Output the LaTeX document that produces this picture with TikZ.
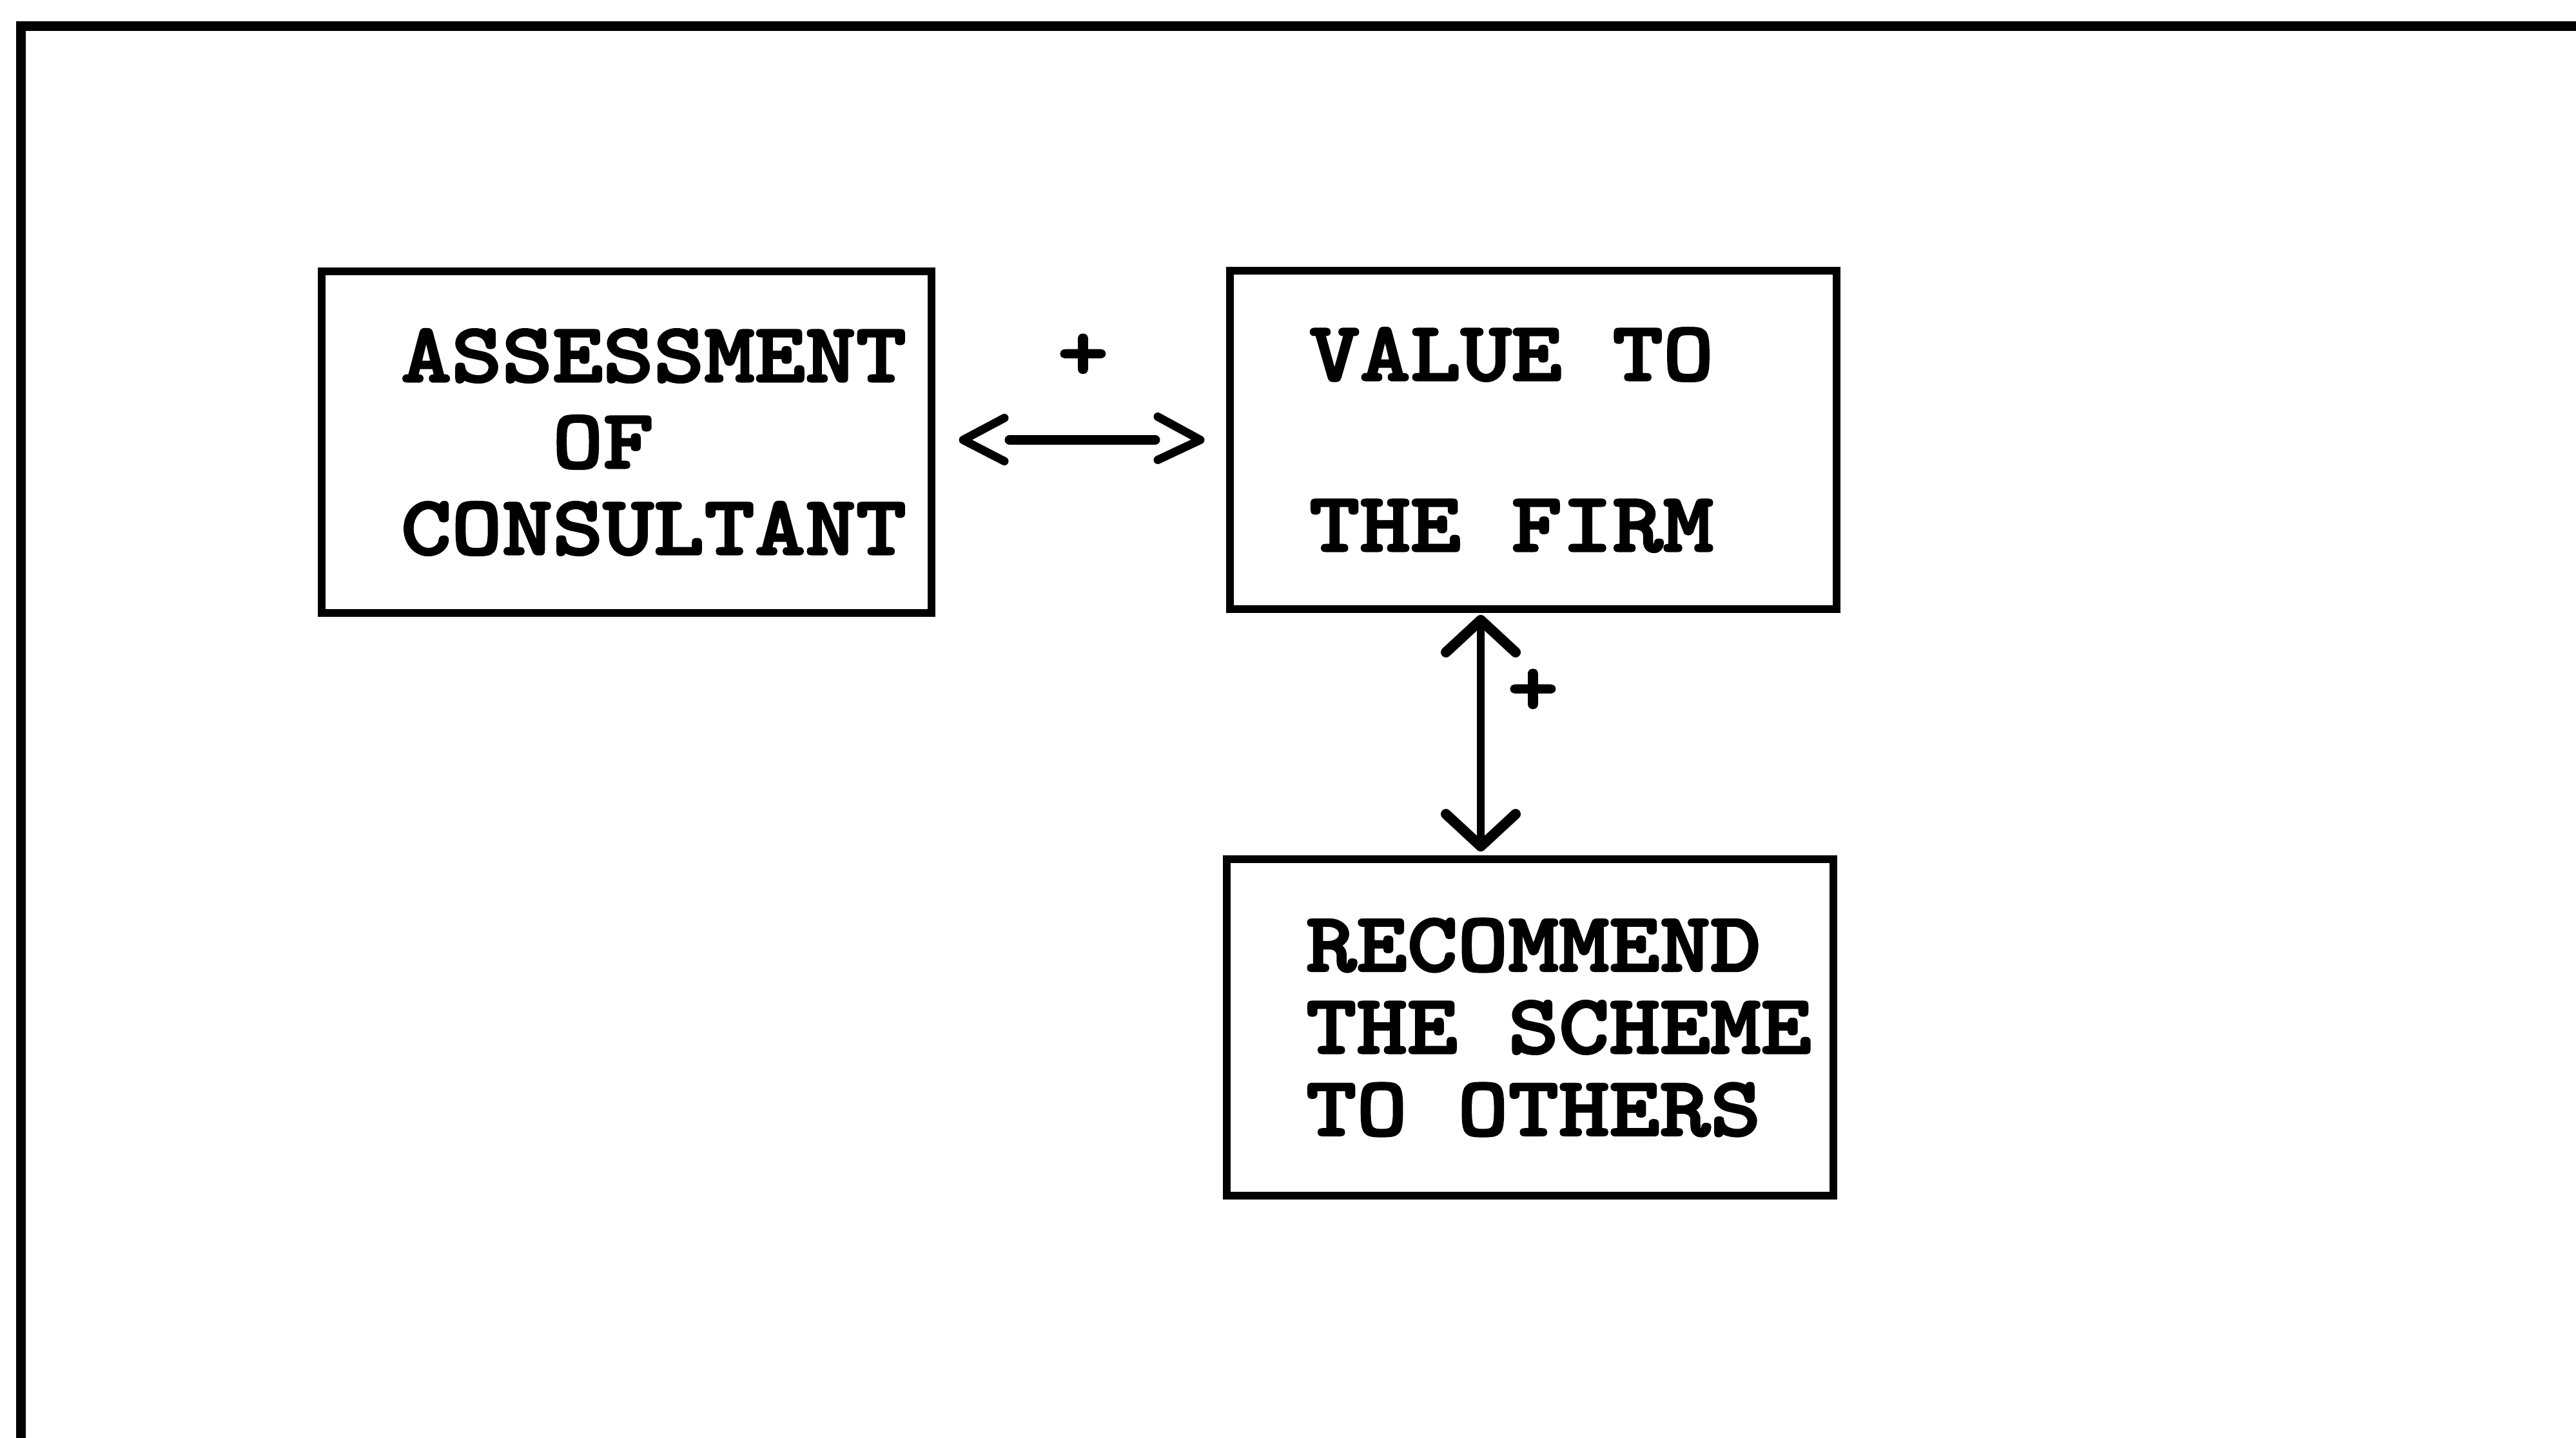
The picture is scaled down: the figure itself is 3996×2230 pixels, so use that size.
\documentclass[tikz,border=0pt]{standalone}
\usepackage{fontspec}
\usetikzlibrary{arrows.meta,calc}

\hyphenpenalty=10000
\exhyphenpenalty=10000
\hfuzz=2000pt
\hbadness=10000

% heavy typewriter face, slightly widened
\newfontfamily\typewr{lmmonolt10-bold.otf}[FakeStretch=1.14, FakeBold=2.5]
\newcommand{\typedfont}[1]{\typewr\fontsize{131pt}{#1}\selectfont}
% every blank takes one full character cell
\newcommand{\cellspaces}{\spaceskip=\fontcharwd\font`\X\relax\xspaceskip=\spaceskip}

\tikzset{
  frame/.style={line width=15pt, line cap=rect},
  % typed, boxed statement
  stmt/.style={draw, line width=12pt, inner sep=0pt, align=left},
  sign/.style={inner sep=0pt, font=\typedfont{140pt}},
  hline/.style={line width=15pt, line cap=round},
  chev/.style={line width=13pt, line cap=round, line join=round},
  vlink/.style={line width=12pt,
    {Straight Barb[length=50pt, width=108pt, line width=16pt, round]}-{Straight Barb[length=50pt, width=108pt, line width=16pt, round]}}
}

\begin{document}
\begin{tikzpicture}[x=1pt, y=-1pt]
  \useasboundingbox (0,0) rectangle (3996,2230);
  \clip (0,0) rectangle (3996,2230);

  % page frame
  \draw[frame] (32,2300) -- (32,40) -- (4100,40);

  % statements
  \node[stmt, font=\typedfont{134pt}, minimum width=946pt, minimum height=530pt, text width=700pt]
    (assess) at (972,686) {ASSESSMENT\\\phantom{ASS}OF\\CONSULTANT};
  \node[stmt, font=\typedfont{132pt}, minimum width=941pt, minimum height=525pt, text width=695pt]
    (value) at (2378.5,682.5) {\cellspaces VALUE TO\\[133pt]THE FIRM};
  \node[stmt, font=\typedfont{127.5pt}, minimum width=941pt, minimum height=522pt, text width=695pt]
    (recom) at (2373.5,1594) {\cellspaces RECOMMEND\\THE~SCHEME\\TO~OTHERS};

  % signs of the links
  \node[sign] (plusA) at (1680,554) {+};
  \node[sign] (plusB) at (2378,1074) {+};

  % horizontal link: a rule between two typed chevrons
  \draw[hline, shorten <=115pt, shorten >=110pt] (value.west -| assess.east) -- (value.west);
  \coordinate (hL) at ($(value.west -| assess.east)+(43,0)$);
  \coordinate (hR) at ($(value.west)+(-40,0)$);
  \draw[chev] ($(hL)+(64,-34)$) -- (hL) -- ($(hL)+(64,33)$);
  \draw[chev] ($(hR)+(-66,-36)$) -- (hR) -- ($(hR)+(-66,31)$);

  % vertical link
  \coordinate (vtop) at ([xshift=-81.5pt]value.south);
  \coordinate (vbot) at (vtop |- recom.north);
  \draw[vlink, shorten <=3pt, shorten >=6pt] (vtop) -- (vbot);
\end{tikzpicture}
\end{document}
